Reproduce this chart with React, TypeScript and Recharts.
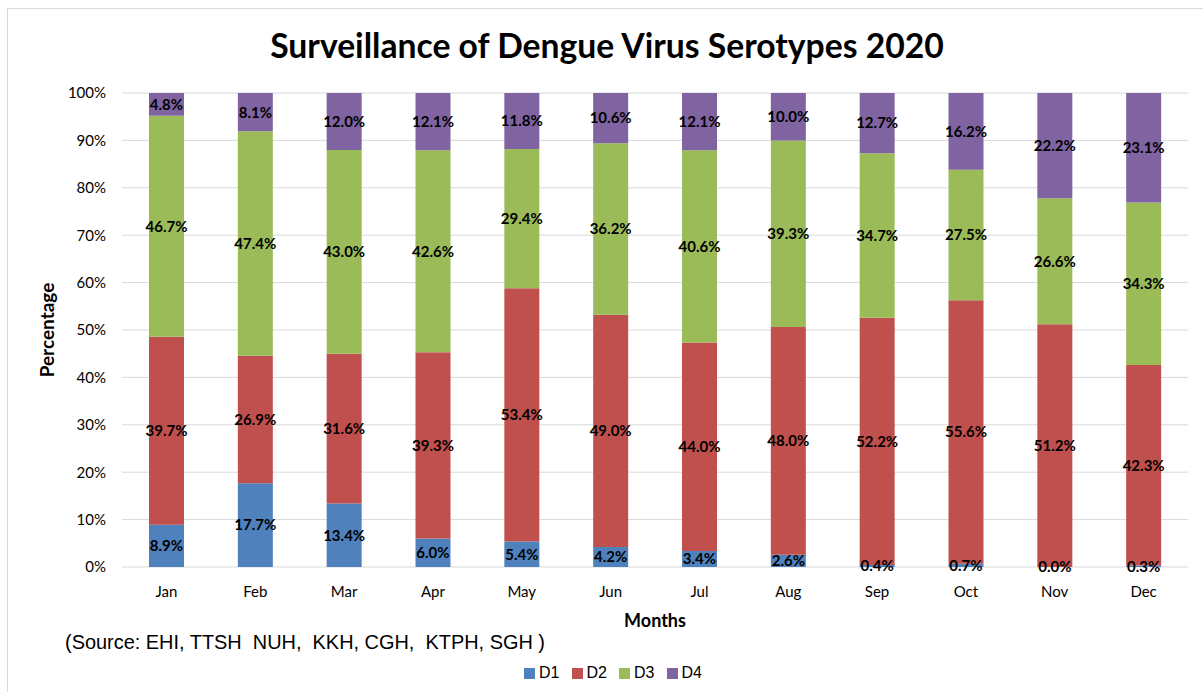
import React from 'react';
import { BarChart, Bar, XAxis, YAxis, CartesianGrid, LabelList } from 'recharts';

const months = ['Jan', 'Feb', 'Mar', 'Apr', 'May', 'Jun', 'Jul', 'Aug', 'Sep', 'Oct', 'Nov', 'Dec'];
const d1 = [8.9, 17.7, 13.4, 6.0, 5.4, 4.2, 3.4, 2.6, 0.4, 0.7, 0.0, 0.3];
const d2 = [39.7, 26.9, 31.6, 39.3, 53.4, 49.0, 44.0, 48.0, 52.2, 55.6, 51.2, 42.3];
const d3 = [46.7, 47.4, 43.0, 42.6, 29.4, 36.2, 40.6, 39.3, 34.7, 27.5, 26.6, 34.3];
const d4 = [4.8, 8.1, 12.0, 12.1, 11.8, 10.6, 12.1, 10.0, 12.7, 16.2, 22.2, 23.1];
const yTicks = [0, 0.1, 0.2, 0.3, 0.4, 0.5, 0.6, 0.7, 0.8, 0.9, 1];

const series = [
  { key: 'D1', values: d1, color: '#4F81BD' },
  { key: 'D2', values: d2, color: '#C0504D' },
  { key: 'D3', values: d3, color: '#9BBB59' },
  { key: 'D4', values: d4, color: '#8064A2' },
];

const data = months.map((m, i) => ({
  month: m,
  D1: d1[i],
  D2: d2[i],
  D3: d3[i],
  D4: d4[i],
}));

const FONT = 'Lato, "Open Sans", sans-serif';
const ARIAL = '"Liberation Sans", Arial, sans-serif';
const labelStyle = { fontSize: 15, fontWeight: 700, fill: '#000', fontFamily: FONT };

const fmtLabel = (v: any) => `${Number(v).toFixed(1)}%`;

// zero-height D1 bars get no label of their own, so draw it at the foot of the D2 bar
const ZeroD1Label = (props: any) => {
  const { x, y, width, height, index } = props;
  if (d1[index] !== 0) return null;
  return (
    <text x={x + width / 2} y={y + height} dy={5} textAnchor="middle" style={labelStyle}>
      {fmtLabel(d1[index])}
    </text>
  );
};

export default function App() {
  return (
    <div style={{ position: 'absolute', left: 0, top: 0, width: 1203, height: 692, background: '#fff', fontFamily: FONT }}>
      {/* frame */}
      <div style={{ position: 'absolute', left: 7, top: 8, width: 1196, height: 684, borderTop: '1px solid #d9d9d9', borderLeft: '1px solid #d9d9d9' }} />
      <BarChart
        width={1203}
        height={692}
        data={data}
        stackOffset="expand"
        barSize={35}
        margin={{ top: 93, right: 15, bottom: 63, left: 42 }}
      >
        <text x={607} y={58} textAnchor="middle" fontFamily={FONT} fontWeight={700} fontSize={33.7} fill="#000">
          Surveillance of Dengue Virus Serotypes 2020
        </text>
        <CartesianGrid vertical={false} stroke="#d9d9d9" />
        <XAxis
          dataKey="month"
          axisLine={false}
          tickLine={false}
          height={62}
          tickMargin={13}
          tick={{ fontSize: 15, fill: '#000', fontFamily: FONT }}
        />
        <YAxis
          width={80}
          ticks={yTicks}
          domain={[0, 1]}
          axisLine={false}
          tickLine={false}
          tickMargin={10}
          tickFormatter={(v: number) => `${Math.round(v * 100)}%`}
          tick={{ fontSize: 15, fill: '#000', fontFamily: FONT }}
        />
        {series.map((s) => (
          <Bar key={s.key} dataKey={s.key} stackId="a" fill={s.color} isAnimationActive={false}>
            <LabelList dataKey={s.key} position="center" formatter={fmtLabel} style={labelStyle} />
            {s.key === 'D2' && <LabelList dataKey="D1" content={ZeroD1Label} />}
          </Bar>
        ))}
        <text x={46} y={330} transform="rotate(-90 46 330)" textAnchor="middle" dominantBaseline="central" fontFamily={FONT} fontWeight={700} fontSize={19} fill="#000">
          Percentage
        </text>
        <text x={655} y={627} textAnchor="middle" fontFamily={FONT} fontWeight={700} fontSize={18} fill="#000">
          Months
        </text>
        <text x={65} y={649} fontFamily={ARIAL} fontSize={20} fill="#000" textLength={480} lengthAdjust="spacingAndGlyphs" style={{ whiteSpace: 'pre' }}>
          {'(Source: EHI, TTSH  NUH,  KKH, CGH,  KTPH, SGH )'}
        </text>
      </BarChart>
      {/* legend */}
      <div style={{ position: 'absolute', left: 524, top: 664, display: 'flex', fontFamily: ARIAL, fontSize: 16, color: '#000' }}>
        {series.map((s) => (
          <div key={s.key} style={{ display: 'flex', alignItems: 'center', width: 47.5 }}>
            <span style={{ display: 'inline-block', width: 11, height: 11, background: s.color, marginRight: 4 }} />
            <span>{s.key}</span>
          </div>
        ))}
      </div>
    </div>
  );
}
